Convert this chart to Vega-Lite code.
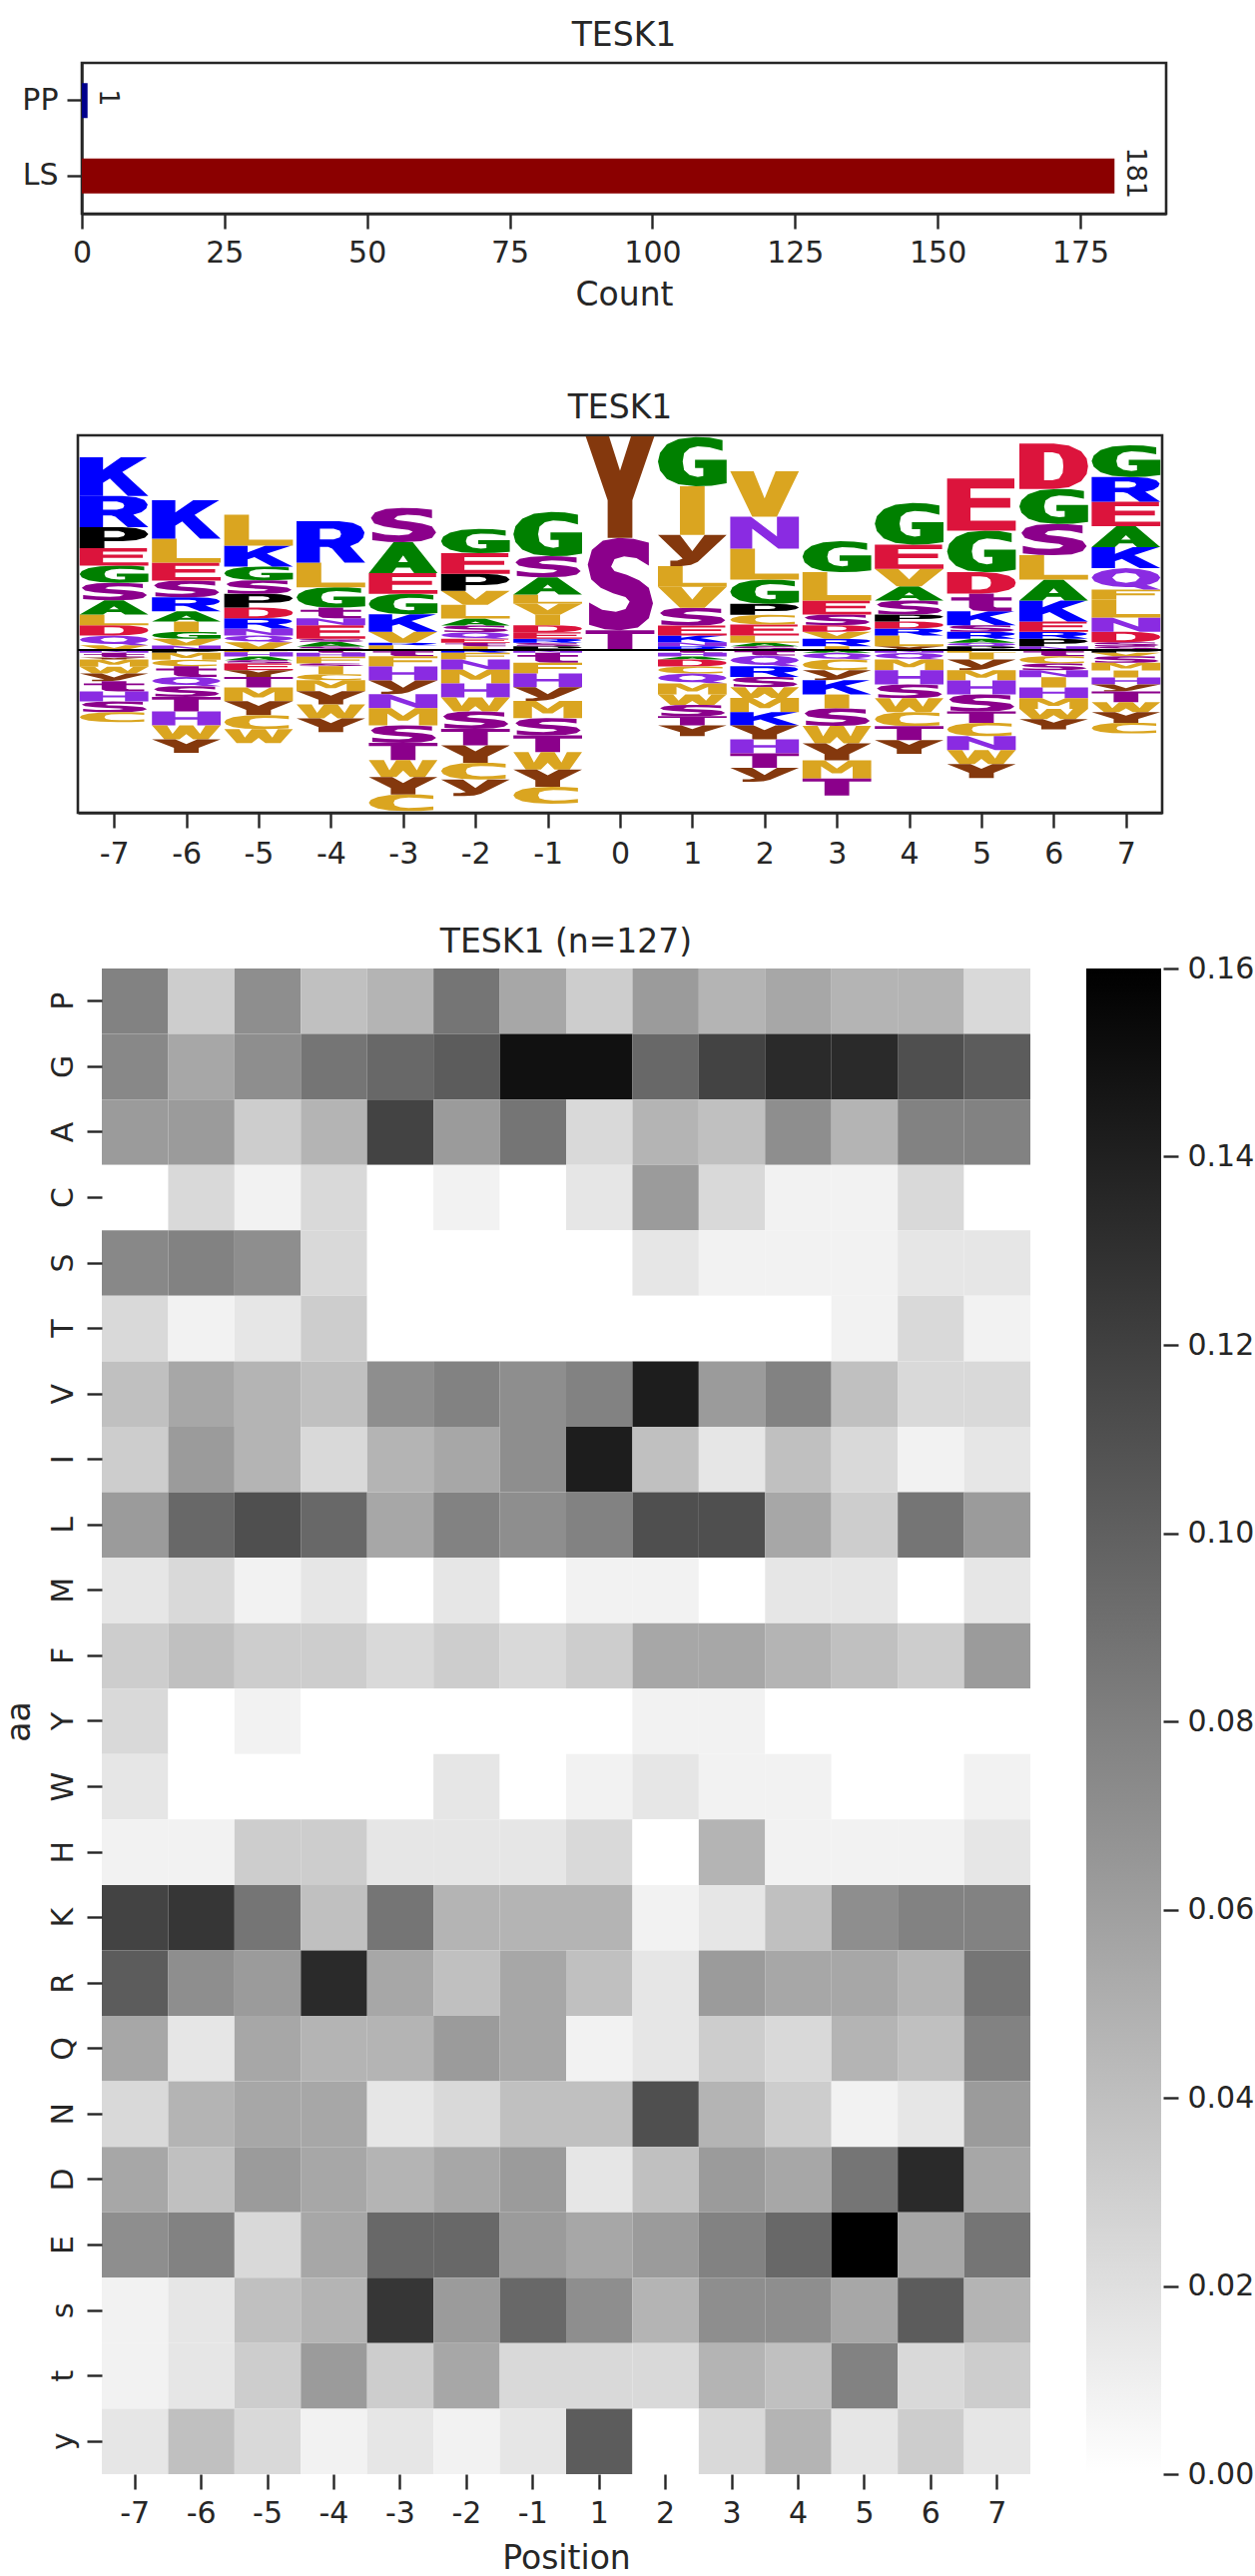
{"$schema":"https://vega.github.io/schema/vega-lite/v6.json","background":"white","padding":{"left":0,"top":18,"right":0,"bottom":0},
"config":{"font":"DejaVu Sans","title":{"fontSize":33,"fontWeight":"normal","color":"#262626","offset":10},"axis":{"labelFontSize":30,"titleFontSize":33,"titleFontWeight":"normal","labelColor":"#262626","titleColor":"#262626","tickColor":"#262626","domainColor":"#262626","tickSize":15,"tickWidth":2.4,"domainWidth":2.4,"grid":false,"labelPadding":9},"view":{"stroke":"#262626","strokeWidth":2.6}},
"datasets":{
"glyphs":[
{"aa":"A","u":[0,34,40,60,66,100,64,36,50,57,43,50,36],"v":[0,0,18,18,0,0,100,100,58,36,36,58,100]},
{"aa":"C","u":[94,75,55,30,13,3,0,3,13,30,55,75,94,94,75,58,46,38,36,38,46,58,75,94],"v":[94,99,100,96,85,68,50,32,15,4,0,1,6,28,21,19,23,33,50,67,77,81,79,72]},
{"aa":"D","u":[0,50,72,90,98,100,98,90,72,50,0,36,48,58,63,64,63,58,48,36,36,0],"v":[0,0,4,17,33,50,67,83,96,100,100,81,81,77,65,50,35,23,19,19,81,100]},
{"aa":"E","u":[0,100,100,34,34,92,92,34,34,98,98,0],"v":[0,0,19,19,44,44,63,63,81,81,100,100]},
{"aa":"F","u":[0,36,36,92,92,36,36,100,100,0],"v":[0,0,42,42,61,61,81,81,100,100]},
{"aa":"G","u":[94,75,55,30,13,3,0,3,13,30,55,78,100,100,54,54,66,66,58,46,38,36,38,46,58,75,94],"v":[94,99,100,96,85,68,50,32,15,4,0,1,6,54,54,37,37,21,19,23,33,50,67,77,81,79,72]},
{"aa":"H","u":[0,34,34,66,66,100,100,66,66,34,34,0],"v":[0,0,41,41,0,0,100,100,60,60,100,100]},
{"aa":"I","u":[32,68,68,32],"v":[0,0,100,100]},
{"aa":"K","u":[0,34,34,44,70,100,62,98,60,34,34,0],"v":[0,0,34,45,0,0,62,100,100,68,100,100]},
{"aa":"L","u":[0,100,100,36,36,0],"v":[0,0,19,19,100,100]},
{"aa":"M","u":[0,27,27,43,57,73,73,100,100,67,50,33,0],"v":[0,0,68,28,28,68,0,0,100,100,55,100,100]},
{"aa":"N","u":[0,32,32,70,100,100,68,68,30,0],"v":[0,0,62,0,0,100,100,38,100,100]},
{"aa":"P","u":[0,36,36,62,82,95,100,95,82,62,0,36,56,64,66,64,56,36,36,0],"v":[0,0,34,34,38,50,67,84,96,100,100,82,82,76,67,58,52,52,82,100]},
{"aa":"Q","u":[0,4,15,31,50,62,76,100,80,85,96,100,96,85,69,50,31,15,4,0,30,36,50,64,70,64,50,36,30,0],"v":[56,39,25,15,12,12,0,0,22,25,39,56,73,87,96,100,96,87,73,56,56,74,80,74,56,38,32,38,56,56]},
{"aa":"R","u":[0,34,34,46,52,70,100,78,90,97,99,94,82,62,0,34,54,63,65,63,54,34,34,0],"v":[0,0,38,38,34,0,0,40,48,60,73,87,96,100,100,82,82,77,69,61,56,56,82,100]},
{"aa":"S","u":[92,70,48,25,9,3,8,22,40,58,64,58,44,24,5,5,28,50,76,92,98,92,78,60,42,37,42,56,74,92],"v":[95,99,100,97,87,71,55,46,40,36,31,23,20,22,30,6,1,0,3,13,29,46,54,60,64,69,77,80,78,70]},
{"aa":"T","u":[32,68,68,100,100,0,0,32],"v":[0,0,81,81,100,100,81,81]},
{"aa":"V","u":[32,68,100,66,50,34,0],"v":[0,0,100,100,40,100,100]},
{"aa":"W","u":[18,40,50,60,82,100,78,70,60,40,30,22,0],"v":[0,0,38,0,0,100,100,40,100,100,40,100,100]},
{"aa":"Y","u":[32,68,68,100,66,50,34,0,32],"v":[0,0,37,100,100,66,100,100,37]},
{"aa":"t","u":[32,68,68,94,94,68,68,72,94,94,56,38,32,32,6,6,32],"v":[100,100,78,78,60,60,26,20,20,0,0,5,20,60,60,78,78]},
{"aa":"y","u":[0,36,28,18,18,34,48,58,100,68,50,32],"v":[100,24,18,18,0,0,4,14,100,100,48,100]}
],
"logo":[
{"pos":-7,"aa":"V","h":14},{"pos":-7,"aa":"Q","h":29},{"pos":-7,"aa":"D","h":31},{"pos":-7,"aa":"L","h":32},{"pos":-7,"aa":"A","h":43},{"pos":-7,"aa":"S","h":52},{"pos":-7,"aa":"G","h":52},{"pos":-7,"aa":"E","h":52},{"pos":-7,"aa":"P","h":63},{"pos":-7,"aa":"R","h":94},{"pos":-7,"aa":"K","h":116},
{"pos":-7,"aa":"N","h":-9},{"pos":-7,"aa":"t","h":-14},{"pos":-7,"aa":"Y","h":-6},{"pos":-7,"aa":"M","h":-22},{"pos":-7,"aa":"W","h":-20},{"pos":-7,"aa":"y","h":-23},{"pos":-7,"aa":"t","h":-31},{"pos":-7,"aa":"H","h":-30},{"pos":-7,"aa":"S","h":-32},{"pos":-7,"aa":"C","h":-30},
{"pos":-6,"aa":"N","h":13},{"pos":-6,"aa":"V","h":20},{"pos":-6,"aa":"G","h":21},{"pos":-6,"aa":"I","h":31},{"pos":-6,"aa":"A","h":31},{"pos":-6,"aa":"R","h":42},{"pos":-6,"aa":"S","h":50},{"pos":-6,"aa":"E","h":54},{"pos":-6,"aa":"L","h":72},{"pos":-6,"aa":"K","h":115},
{"pos":-6,"aa":"P","h":-9},{"pos":-6,"aa":"M","h":-21},{"pos":-6,"aa":"C","h":-19},{"pos":-6,"aa":"t","h":-32},{"pos":-6,"aa":"Q","h":-28},{"pos":-6,"aa":"S","h":-32},{"pos":-6,"aa":"T","h":-44},{"pos":-6,"aa":"H","h":-42},{"pos":-6,"aa":"W","h":-42},{"pos":-6,"aa":"Y","h":-40},
{"pos":-5,"aa":"V","h":23},{"pos":-5,"aa":"Q","h":20},{"pos":-5,"aa":"N","h":21},{"pos":-5,"aa":"R","h":31},{"pos":-5,"aa":"D","h":32},{"pos":-5,"aa":"P","h":41},{"pos":-5,"aa":"S","h":41},{"pos":-5,"aa":"G","h":41},{"pos":-5,"aa":"K","h":63},{"pos":-5,"aa":"L","h":93},
{"pos":-5,"aa":"F","h":-7},{"pos":-5,"aa":"H","h":-13},{"pos":-5,"aa":"A","h":-11},{"pos":-5,"aa":"S","h":-10},{"pos":-5,"aa":"E","h":-20},{"pos":-5,"aa":"Y","h":-20},{"pos":-5,"aa":"T","h":-32},{"pos":-5,"aa":"M","h":-41},{"pos":-5,"aa":"Y","h":-42},{"pos":-5,"aa":"C","h":-42},{"pos":-5,"aa":"W","h":-42},
{"pos":-4,"aa":"S","h":10},{"pos":-4,"aa":"A","h":14},{"pos":-4,"aa":"S","h":9},{"pos":-4,"aa":"E","h":41},{"pos":-4,"aa":"N","h":21},{"pos":-4,"aa":"t","h":32},{"pos":-4,"aa":"G","h":61},{"pos":-4,"aa":"L","h":74},{"pos":-4,"aa":"R","h":124},
{"pos":-4,"aa":"t","h":-9},{"pos":-4,"aa":"H","h":-12},{"pos":-4,"aa":"F","h":-20},{"pos":-4,"aa":"S","h":-8},{"pos":-4,"aa":"I","h":-24},{"pos":-4,"aa":"C","h":-18},{"pos":-4,"aa":"M","h":-33},{"pos":-4,"aa":"Y","h":-40},{"pos":-4,"aa":"W","h":-42},{"pos":-4,"aa":"Y","h":-41},
{"pos":-3,"aa":"L","h":14},{"pos":-3,"aa":"R","h":7},{"pos":-3,"aa":"V","h":33},{"pos":-3,"aa":"K","h":53},{"pos":-3,"aa":"G","h":61},{"pos":-3,"aa":"E","h":62},{"pos":-3,"aa":"A","h":93},{"pos":-3,"aa":"S","h":103},
{"pos":-3,"aa":"t","h":-19},{"pos":-3,"aa":"F","h":-31},{"pos":-3,"aa":"H","h":-42},{"pos":-3,"aa":"y","h":-41},{"pos":-3,"aa":"N","h":-42},{"pos":-3,"aa":"M","h":-52},{"pos":-3,"aa":"S","h":-52},{"pos":-3,"aa":"T","h":-52},{"pos":-3,"aa":"W","h":-51},{"pos":-3,"aa":"Y","h":-52},{"pos":-3,"aa":"C","h":-50},
{"pos":-2,"aa":"I","h":11},{"pos":-2,"aa":"t","h":10},{"pos":-2,"aa":"E","h":12},{"pos":-2,"aa":"Q","h":20},{"pos":-2,"aa":"S","h":20},{"pos":-2,"aa":"A","h":21},{"pos":-2,"aa":"L","h":41},{"pos":-2,"aa":"V","h":42},{"pos":-2,"aa":"P","h":51},{"pos":-2,"aa":"E","h":62},{"pos":-2,"aa":"G","h":73},
{"pos":-2,"aa":"R","h":-9},{"pos":-2,"aa":"F","h":-20},{"pos":-2,"aa":"N","h":-31},{"pos":-2,"aa":"M","h":-41},{"pos":-2,"aa":"H","h":-42},{"pos":-2,"aa":"W","h":-42},{"pos":-2,"aa":"S","h":-52},{"pos":-2,"aa":"T","h":-50},{"pos":-2,"aa":"Y","h":-52},{"pos":-2,"aa":"C","h":-50},{"pos":-2,"aa":"y","h":-50},
{"pos":-1,"aa":"P","h":11},{"pos":-1,"aa":"S","h":10},{"pos":-1,"aa":"R","h":12},{"pos":-1,"aa":"E","h":20},{"pos":-1,"aa":"D","h":21},{"pos":-1,"aa":"I","h":31},{"pos":-1,"aa":"V","h":34},{"pos":-1,"aa":"L","h":27},{"pos":-1,"aa":"A","h":52},{"pos":-1,"aa":"S","h":63},{"pos":-1,"aa":"G","h":133},
{"pos":-1,"aa":"N","h":-9},{"pos":-1,"aa":"t","h":-30},{"pos":-1,"aa":"F","h":-32},{"pos":-1,"aa":"H","h":-41},{"pos":-1,"aa":"y","h":-41},{"pos":-1,"aa":"M","h":-52},{"pos":-1,"aa":"S","h":-52},{"pos":-1,"aa":"T","h":-50},{"pos":-1,"aa":"W","h":-52},{"pos":-1,"aa":"Y","h":-52},{"pos":-1,"aa":"C","h":-51},
{"pos":0,"aa":"T","h":59},{"pos":0,"aa":"S","h":277},{"pos":0,"aa":"Y","h":305},
{"pos":1,"aa":"R","h":11},{"pos":1,"aa":"N","h":12},{"pos":1,"aa":"K","h":20},{"pos":1,"aa":"E","h":30},{"pos":1,"aa":"S","h":53},{"pos":1,"aa":"V","h":63},{"pos":1,"aa":"L","h":62},{"pos":1,"aa":"y","h":94},{"pos":1,"aa":"I","h":146},{"pos":1,"aa":"G","h":148},
{"pos":1,"aa":"t","h":-9},{"pos":1,"aa":"H","h":-11},{"pos":1,"aa":"A","h":-9},{"pos":1,"aa":"D","h":-21},{"pos":1,"aa":"C","h":-21},{"pos":1,"aa":"Q","h":-30},{"pos":1,"aa":"M","h":-33},{"pos":1,"aa":"W","h":-31},{"pos":1,"aa":"S","h":-34},{"pos":1,"aa":"T","h":-28},{"pos":1,"aa":"Y","h":-32},
{"pos":2,"aa":"S","h":11},{"pos":2,"aa":"A","h":10},{"pos":2,"aa":"L","h":22},{"pos":2,"aa":"E","h":33},{"pos":2,"aa":"C","h":29},{"pos":2,"aa":"P","h":33},{"pos":2,"aa":"G","h":73},{"pos":2,"aa":"L","h":93},{"pos":2,"aa":"N","h":96},{"pos":2,"aa":"V","h":136},
{"pos":2,"aa":"t","h":-17},{"pos":2,"aa":"Q","h":-32},{"pos":2,"aa":"R","h":-32},{"pos":2,"aa":"S","h":-31},{"pos":2,"aa":"W","h":-32},{"pos":2,"aa":"M","h":-43},{"pos":2,"aa":"K","h":-40},{"pos":2,"aa":"Y","h":-42},{"pos":2,"aa":"H","h":-42},{"pos":2,"aa":"T","h":-43},{"pos":2,"aa":"y","h":-42},
{"pos":3,"aa":"I","h":11},{"pos":3,"aa":"R","h":22},{"pos":3,"aa":"V","h":21},{"pos":3,"aa":"D","h":20},{"pos":3,"aa":"S","h":32},{"pos":3,"aa":"E","h":42},{"pos":3,"aa":"L","h":85},{"pos":3,"aa":"G","h":93},
{"pos":3,"aa":"A","h":-9},{"pos":3,"aa":"Q","h":-20},{"pos":3,"aa":"C","h":-32},{"pos":3,"aa":"y","h":-30},{"pos":3,"aa":"K","h":-43},{"pos":3,"aa":"I","h":-42},{"pos":3,"aa":"S","h":-52},{"pos":3,"aa":"W","h":-53},{"pos":3,"aa":"Y","h":-51},{"pos":3,"aa":"M","h":-54},{"pos":3,"aa":"T","h":-51},
{"pos":4,"aa":"Y","h":11},{"pos":4,"aa":"L","h":32},{"pos":4,"aa":"R","h":21},{"pos":4,"aa":"D","h":21},{"pos":4,"aa":"P","h":21},{"pos":4,"aa":"S","h":42},{"pos":4,"aa":"A","h":43},{"pos":4,"aa":"V","h":52},{"pos":4,"aa":"E","h":73},{"pos":4,"aa":"G","h":125},
{"pos":4,"aa":"N","h":-9},{"pos":4,"aa":"Q","h":-20},{"pos":4,"aa":"M","h":-32},{"pos":4,"aa":"H","h":-43},{"pos":4,"aa":"S","h":-41},{"pos":4,"aa":"W","h":-42},{"pos":4,"aa":"C","h":-42},{"pos":4,"aa":"T","h":-42},{"pos":4,"aa":"Y","h":-41},
{"pos":5,"aa":"P","h":11},{"pos":5,"aa":"Q","h":10},{"pos":5,"aa":"A","h":12},{"pos":5,"aa":"R","h":21},{"pos":5,"aa":"S","h":20},{"pos":5,"aa":"K","h":42},{"pos":5,"aa":"t","h":53},{"pos":5,"aa":"D","h":64},{"pos":5,"aa":"G","h":125},{"pos":5,"aa":"E","h":156},
{"pos":5,"aa":"L","h":-9},{"pos":5,"aa":"I","h":-20},{"pos":5,"aa":"y","h":-32},{"pos":5,"aa":"M","h":-31},{"pos":5,"aa":"H","h":-42},{"pos":5,"aa":"S","h":-51},{"pos":5,"aa":"T","h":-34},{"pos":5,"aa":"C","h":-40},{"pos":5,"aa":"N","h":-42},{"pos":5,"aa":"W","h":-42},{"pos":5,"aa":"Y","h":-42},
{"pos":6,"aa":"N","h":11},{"pos":6,"aa":"P","h":22},{"pos":6,"aa":"R","h":21},{"pos":6,"aa":"E","h":31},{"pos":6,"aa":"K","h":63},{"pos":6,"aa":"A","h":63},{"pos":6,"aa":"L","h":73},{"pos":6,"aa":"S","h":94},{"pos":6,"aa":"G","h":105},{"pos":6,"aa":"D","h":136},
{"pos":6,"aa":"t","h":-19},{"pos":6,"aa":"C","h":-22},{"pos":6,"aa":"S","h":-20},{"pos":6,"aa":"N","h":-21},{"pos":6,"aa":"I","h":-31},{"pos":6,"aa":"H","h":-32},{"pos":6,"aa":"M","h":-32},{"pos":6,"aa":"W","h":-31},{"pos":6,"aa":"Y","h":-31},
{"pos":7,"aa":"S","h":11},{"pos":7,"aa":"S","h":12},{"pos":7,"aa":"D","h":31},{"pos":7,"aa":"N","h":43},{"pos":7,"aa":"L","h":54},{"pos":7,"aa":"F","h":30},{"pos":7,"aa":"Q","h":64},{"pos":7,"aa":"K","h":63},{"pos":7,"aa":"A","h":63},{"pos":7,"aa":"E","h":74},{"pos":7,"aa":"R","h":74},{"pos":7,"aa":"G","h":95},
{"pos":7,"aa":"P","h":-9},{"pos":7,"aa":"V","h":-10},{"pos":7,"aa":"S","h":-20},{"pos":7,"aa":"M","h":-23},{"pos":7,"aa":"I","h":-21},{"pos":7,"aa":"H","h":-21},{"pos":7,"aa":"y","h":-21},{"pos":7,"aa":"T","h":-32},{"pos":7,"aa":"W","h":-30},{"pos":7,"aa":"Y","h":-32},{"pos":7,"aa":"C","h":-32}
],
"heat":[
{"a":"P","p":-7,"v":0.0787},{"a":"P","p":-6,"v":0.0315},{"a":"P","p":-5,"v":0.0709},{"a":"P","p":-4,"v":0.0394},{"a":"P","p":-3,"v":0.0472},{"a":"P","p":-2,"v":0.0866},{"a":"P","p":-1,"v":0.0551},{"a":"P","p":1,"v":0.0315},{"a":"P","p":2,"v":0.063},{"a":"P","p":3,"v":0.0472},{"a":"P","p":4,"v":0.0551},{"a":"P","p":5,"v":0.0472},{"a":"P","p":6,"v":0.0472},{"a":"P","p":7,"v":0.0236},
{"a":"G","p":-7,"v":0.0748},{"a":"G","p":-6,"v":0.0551},{"a":"G","p":-5,"v":0.0709},{"a":"G","p":-4,"v":0.0866},{"a":"G","p":-3,"v":0.0945},{"a":"G","p":-2,"v":0.1024},{"a":"G","p":-1,"v":0.1496},{"a":"G","p":1,"v":0.1496},{"a":"G","p":2,"v":0.0945},{"a":"G","p":3,"v":0.1181},{"a":"G","p":4,"v":0.1339},{"a":"G","p":5,"v":0.1339},{"a":"G","p":6,"v":0.1102},{"a":"G","p":7,"v":0.1024},
{"a":"A","p":-7,"v":0.063},{"a":"A","p":-6,"v":0.063},{"a":"A","p":-5,"v":0.0315},{"a":"A","p":-4,"v":0.0472},{"a":"A","p":-3,"v":0.1181},{"a":"A","p":-2,"v":0.063},{"a":"A","p":-1,"v":0.0866},{"a":"A","p":1,"v":0.0236},{"a":"A","p":2,"v":0.0472},{"a":"A","p":3,"v":0.0394},{"a":"A","p":4,"v":0.0709},{"a":"A","p":5,"v":0.0472},{"a":"A","p":6,"v":0.0787},{"a":"A","p":7,"v":0.0787},
{"a":"C","p":-7,"v":0},{"a":"C","p":-6,"v":0.0236},{"a":"C","p":-5,"v":0.0079},{"a":"C","p":-4,"v":0.0236},{"a":"C","p":-3,"v":0},{"a":"C","p":-2,"v":0.0079},{"a":"C","p":-1,"v":0},{"a":"C","p":1,"v":0.0157},{"a":"C","p":2,"v":0.063},{"a":"C","p":3,"v":0.0236},{"a":"C","p":4,"v":0.0079},{"a":"C","p":5,"v":0.0079},{"a":"C","p":6,"v":0.0236},{"a":"C","p":7,"v":0},
{"a":"S","p":-7,"v":0.0748},{"a":"S","p":-6,"v":0.0787},{"a":"S","p":-5,"v":0.0709},{"a":"S","p":-4,"v":0.0236},{"a":"S","p":-3,"v":0},{"a":"S","p":-2,"v":0},{"a":"S","p":-1,"v":0},{"a":"S","p":1,"v":0},{"a":"S","p":2,"v":0.0157},{"a":"S","p":3,"v":0.0079},{"a":"S","p":4,"v":0.0079},{"a":"S","p":5,"v":0.0079},{"a":"S","p":6,"v":0.0157},{"a":"S","p":7,"v":0.0157},
{"a":"T","p":-7,"v":0.0236},{"a":"T","p":-6,"v":0.0079},{"a":"T","p":-5,"v":0.0157},{"a":"T","p":-4,"v":0.0315},{"a":"T","p":-3,"v":0},{"a":"T","p":-2,"v":0},{"a":"T","p":-1,"v":0},{"a":"T","p":1,"v":0},{"a":"T","p":2,"v":0},{"a":"T","p":3,"v":0},{"a":"T","p":4,"v":0},{"a":"T","p":5,"v":0.0079},{"a":"T","p":6,"v":0.0236},{"a":"T","p":7,"v":0.0079},
{"a":"V","p":-7,"v":0.0394},{"a":"V","p":-6,"v":0.0551},{"a":"V","p":-5,"v":0.0472},{"a":"V","p":-4,"v":0.0394},{"a":"V","p":-3,"v":0.0709},{"a":"V","p":-2,"v":0.0787},{"a":"V","p":-1,"v":0.0709},{"a":"V","p":1,"v":0.0787},{"a":"V","p":2,"v":0.1417},{"a":"V","p":3,"v":0.063},{"a":"V","p":4,"v":0.0787},{"a":"V","p":5,"v":0.0394},{"a":"V","p":6,"v":0.0236},{"a":"V","p":7,"v":0.0236},
{"a":"I","p":-7,"v":0.0315},{"a":"I","p":-6,"v":0.063},{"a":"I","p":-5,"v":0.0472},{"a":"I","p":-4,"v":0.0236},{"a":"I","p":-3,"v":0.0472},{"a":"I","p":-2,"v":0.0551},{"a":"I","p":-1,"v":0.0709},{"a":"I","p":1,"v":0.1417},{"a":"I","p":2,"v":0.0394},{"a":"I","p":3,"v":0.0157},{"a":"I","p":4,"v":0.0394},{"a":"I","p":5,"v":0.0236},{"a":"I","p":6,"v":0.0079},{"a":"I","p":7,"v":0.0157},
{"a":"L","p":-7,"v":0.063},{"a":"L","p":-6,"v":0.0945},{"a":"L","p":-5,"v":0.1102},{"a":"L","p":-4,"v":0.0945},{"a":"L","p":-3,"v":0.0551},{"a":"L","p":-2,"v":0.0787},{"a":"L","p":-1,"v":0.0709},{"a":"L","p":1,"v":0.0787},{"a":"L","p":2,"v":0.1102},{"a":"L","p":3,"v":0.1102},{"a":"L","p":4,"v":0.0551},{"a":"L","p":5,"v":0.0315},{"a":"L","p":6,"v":0.0866},{"a":"L","p":7,"v":0.063},
{"a":"M","p":-7,"v":0.0157},{"a":"M","p":-6,"v":0.0236},{"a":"M","p":-5,"v":0.0079},{"a":"M","p":-4,"v":0.0157},{"a":"M","p":-3,"v":0},{"a":"M","p":-2,"v":0.0157},{"a":"M","p":-1,"v":0},{"a":"M","p":1,"v":0.0079},{"a":"M","p":2,"v":0.0079},{"a":"M","p":3,"v":0},{"a":"M","p":4,"v":0.0157},{"a":"M","p":5,"v":0.0157},{"a":"M","p":6,"v":0},{"a":"M","p":7,"v":0.0157},
{"a":"F","p":-7,"v":0.0315},{"a":"F","p":-6,"v":0.0394},{"a":"F","p":-5,"v":0.0315},{"a":"F","p":-4,"v":0.0315},{"a":"F","p":-3,"v":0.0236},{"a":"F","p":-2,"v":0.0315},{"a":"F","p":-1,"v":0.0236},{"a":"F","p":1,"v":0.0315},{"a":"F","p":2,"v":0.0551},{"a":"F","p":3,"v":0.0551},{"a":"F","p":4,"v":0.0472},{"a":"F","p":5,"v":0.0394},{"a":"F","p":6,"v":0.0315},{"a":"F","p":7,"v":0.063},
{"a":"Y","p":-7,"v":0.0236},{"a":"Y","p":-6,"v":0},{"a":"Y","p":-5,"v":0.0079},{"a":"Y","p":-4,"v":0},{"a":"Y","p":-3,"v":0},{"a":"Y","p":-2,"v":0},{"a":"Y","p":-1,"v":0},{"a":"Y","p":1,"v":0},{"a":"Y","p":2,"v":0.0079},{"a":"Y","p":3,"v":0.0079},{"a":"Y","p":4,"v":0},{"a":"Y","p":5,"v":0},{"a":"Y","p":6,"v":0},{"a":"Y","p":7,"v":0},
{"a":"W","p":-7,"v":0.0157},{"a":"W","p":-6,"v":0},{"a":"W","p":-5,"v":0},{"a":"W","p":-4,"v":0},{"a":"W","p":-3,"v":0},{"a":"W","p":-2,"v":0.0157},{"a":"W","p":-1,"v":0},{"a":"W","p":1,"v":0.0079},{"a":"W","p":2,"v":0.0157},{"a":"W","p":3,"v":0.0079},{"a":"W","p":4,"v":0.0079},{"a":"W","p":5,"v":0},{"a":"W","p":6,"v":0},{"a":"W","p":7,"v":0.0079},
{"a":"H","p":-7,"v":0.0079},{"a":"H","p":-6,"v":0.0079},{"a":"H","p":-5,"v":0.0315},{"a":"H","p":-4,"v":0.0315},{"a":"H","p":-3,"v":0.0157},{"a":"H","p":-2,"v":0.0157},{"a":"H","p":-1,"v":0.0157},{"a":"H","p":1,"v":0.0236},{"a":"H","p":2,"v":0},{"a":"H","p":3,"v":0.0472},{"a":"H","p":4,"v":0.0079},{"a":"H","p":5,"v":0.0079},{"a":"H","p":6,"v":0.0079},{"a":"H","p":7,"v":0.0157},
{"a":"K","p":-7,"v":0.1181},{"a":"K","p":-6,"v":0.126},{"a":"K","p":-5,"v":0.0866},{"a":"K","p":-4,"v":0.0394},{"a":"K","p":-3,"v":0.0866},{"a":"K","p":-2,"v":0.0472},{"a":"K","p":-1,"v":0.0472},{"a":"K","p":1,"v":0.0472},{"a":"K","p":2,"v":0.0079},{"a":"K","p":3,"v":0.0157},{"a":"K","p":4,"v":0.0394},{"a":"K","p":5,"v":0.0709},{"a":"K","p":6,"v":0.0787},{"a":"K","p":7,"v":0.0787},
{"a":"R","p":-7,"v":0.1024},{"a":"R","p":-6,"v":0.0709},{"a":"R","p":-5,"v":0.063},{"a":"R","p":-4,"v":0.1339},{"a":"R","p":-3,"v":0.0551},{"a":"R","p":-2,"v":0.0394},{"a":"R","p":-1,"v":0.0551},{"a":"R","p":1,"v":0.0394},{"a":"R","p":2,"v":0.0157},{"a":"R","p":3,"v":0.063},{"a":"R","p":4,"v":0.0551},{"a":"R","p":5,"v":0.0551},{"a":"R","p":6,"v":0.0472},{"a":"R","p":7,"v":0.0866},
{"a":"Q","p":-7,"v":0.0551},{"a":"Q","p":-6,"v":0.0157},{"a":"Q","p":-5,"v":0.0551},{"a":"Q","p":-4,"v":0.0472},{"a":"Q","p":-3,"v":0.0472},{"a":"Q","p":-2,"v":0.063},{"a":"Q","p":-1,"v":0.0551},{"a":"Q","p":1,"v":0.0079},{"a":"Q","p":2,"v":0.0157},{"a":"Q","p":3,"v":0.0315},{"a":"Q","p":4,"v":0.0236},{"a":"Q","p":5,"v":0.0472},{"a":"Q","p":6,"v":0.0394},{"a":"Q","p":7,"v":0.0787},
{"a":"N","p":-7,"v":0.0236},{"a":"N","p":-6,"v":0.0472},{"a":"N","p":-5,"v":0.0551},{"a":"N","p":-4,"v":0.0551},{"a":"N","p":-3,"v":0.0157},{"a":"N","p":-2,"v":0.0236},{"a":"N","p":-1,"v":0.0394},{"a":"N","p":1,"v":0.0394},{"a":"N","p":2,"v":0.1102},{"a":"N","p":3,"v":0.0472},{"a":"N","p":4,"v":0.0315},{"a":"N","p":5,"v":0.0079},{"a":"N","p":6,"v":0.0157},{"a":"N","p":7,"v":0.063},
{"a":"D","p":-7,"v":0.0551},{"a":"D","p":-6,"v":0.0394},{"a":"D","p":-5,"v":0.063},{"a":"D","p":-4,"v":0.0551},{"a":"D","p":-3,"v":0.0472},{"a":"D","p":-2,"v":0.0551},{"a":"D","p":-1,"v":0.063},{"a":"D","p":1,"v":0.0157},{"a":"D","p":2,"v":0.0394},{"a":"D","p":3,"v":0.063},{"a":"D","p":4,"v":0.0551},{"a":"D","p":5,"v":0.0866},{"a":"D","p":6,"v":0.1339},{"a":"D","p":7,"v":0.0551},
{"a":"E","p":-7,"v":0.0709},{"a":"E","p":-6,"v":0.0787},{"a":"E","p":-5,"v":0.0236},{"a":"E","p":-4,"v":0.0551},{"a":"E","p":-3,"v":0.0945},{"a":"E","p":-2,"v":0.0945},{"a":"E","p":-1,"v":0.063},{"a":"E","p":1,"v":0.0551},{"a":"E","p":2,"v":0.063},{"a":"E","p":3,"v":0.0787},{"a":"E","p":4,"v":0.0945},{"a":"E","p":5,"v":0.16},{"a":"E","p":6,"v":0.0551},{"a":"E","p":7,"v":0.0866},
{"a":"s","p":-7,"v":0.0079},{"a":"s","p":-6,"v":0.0157},{"a":"s","p":-5,"v":0.0394},{"a":"s","p":-4,"v":0.0472},{"a":"s","p":-3,"v":0.126},{"a":"s","p":-2,"v":0.063},{"a":"s","p":-1,"v":0.0945},{"a":"s","p":1,"v":0.0709},{"a":"s","p":2,"v":0.0472},{"a":"s","p":3,"v":0.0709},{"a":"s","p":4,"v":0.0709},{"a":"s","p":5,"v":0.0551},{"a":"s","p":6,"v":0.1024},{"a":"s","p":7,"v":0.0472},
{"a":"t","p":-7,"v":0.0079},{"a":"t","p":-6,"v":0.0157},{"a":"t","p":-5,"v":0.0315},{"a":"t","p":-4,"v":0.063},{"a":"t","p":-3,"v":0.0315},{"a":"t","p":-2,"v":0.0551},{"a":"t","p":-1,"v":0.0236},{"a":"t","p":1,"v":0.0236},{"a":"t","p":2,"v":0.0236},{"a":"t","p":3,"v":0.0472},{"a":"t","p":4,"v":0.0394},{"a":"t","p":5,"v":0.0787},{"a":"t","p":6,"v":0.0236},{"a":"t","p":7,"v":0.0315},
{"a":"y","p":-7,"v":0.0157},{"a":"y","p":-6,"v":0.0394},{"a":"y","p":-5,"v":0.0236},{"a":"y","p":-4,"v":0.0079},{"a":"y","p":-3,"v":0.0157},{"a":"y","p":-2,"v":0.0079},{"a":"y","p":-1,"v":0.0157},{"a":"y","p":1,"v":0.1024},{"a":"y","p":2,"v":0},{"a":"y","p":3,"v":0.0236},{"a":"y","p":4,"v":0.0472},{"a":"y","p":5,"v":0.0157},{"a":"y","p":6,"v":0.0315},{"a":"y","p":7,"v":0.0157}
],
"spacer":[{"s":0}]},
"spacing":56,"align":"none",
"vconcat":[
{"spacing":0,"hconcat":[
{"width":20,"height":1,"view":{"stroke":null},"data":{"name":"spacer"},"mark":{"type":"rect","opacity":0},"encoding":{}},
{"title":"TESK1","width":1086,"height":151,"data":{"values":[{"k":"PP","n":1},{"k":"LS","n":181}]},
"encoding":{"y":{"field":"k","type":"nominal","sort":["PP","LS"],"title":null,"scale":{"paddingInner":0.54,"paddingOuter":0.27},"axis":{"labelAngle":0}}},
"layer":[
{"mark":{"type":"bar","size":35},"encoding":{"x":{"field":"n","type":"quantitative","title":"Count","scale":{"domain":[0,190.05],"nice":false},"axis":{"values":[0,25,50,75,100,125,150,175],"titlePadding":11,"labelFlush":false}},"color":{"field":"k","type":"nominal","legend":null,"scale":{"domain":["PP","LS"],"range":["#00008b","#8b0000"]}}}},
{"mark":{"type":"text","angle":90,"fontSize":27,"dy":-20.5,"dx":-3,"color":"#262626","align":"center","baseline":"middle"},"encoding":{"x":{"field":"n","type":"quantitative"},"text":{"field":"n","type":"quantitative"}}}
]}]},
{"spacing":0,"hconcat":[
{"width":76,"height":1,"view":{"stroke":null},"data":{"name":"spacer"},"mark":{"type":"rect","opacity":0},"encoding":{}},
{"title":{"text":[" ","TESK1"],"lineHeight":21},"width":1086,"height":378,"data":{"name":"logo"},
"layer":[
{"transform":[
{"stack":"h","groupby":["pos"],"as":["s0","s1"]},
{"lookup":"aa","from":{"data":{"name":"glyphs"},"key":"aa","fields":["u","v"]}},
{"calculate":"datum.pos+'_'+datum.s1","as":"id"},
{"flatten":["u","v"]},
{"window":[{"op":"row_number","as":"k"}]},
{"calculate":"datum.pos-0.475+0.95*datum.u/100","as":"gx"},
{"calculate":"min(datum.s0,datum.s1)+abs(datum.h)*datum.v/100","as":"gy"}],
"mark":{"type":"line","strokeWidth":0,"stroke":null,"clip":true,"interpolate":"linear"},
"encoding":{
"x":{"field":"gx","type":"quantitative","title":null,"scale":{"domain":[-7.5,7.5],"nice":false,"zero":false},"axis":{"values":[-7,-6,-5,-4,-3,-2,-1,0,1,2,3,4,5,6,7],"labelExpr":"datum.value+''","labelPadding":11,"labelFlush":false}},
"y":{"field":"gy","type":"quantitative","title":null,"scale":{"domain":[-489,644],"nice":false,"zero":false},"axis":null},
"detail":{"field":"id"},
"order":{"field":"k","type":"quantitative"},
"fill":{"field":"aa","type":"nominal","legend":null,"scale":{"domain":["A","G","K","R","D","E","S","T","t","P","N","Q","H","Y","y","L","V","I","M","W","F","C"],"range":["#008000","#008000","#0000ff","#0000ff","#dc143c","#dc143c","#8b008b","#8b008b","#8b008b","#000000","#8a2be2","#8a2be2","#8a2be2","#84380d","#84380d","#daa520","#daa520","#daa520","#daa520","#daa520","#daa520","#daa520"]}}}},
{"mark":{"type":"rule","color":"#000000","strokeWidth":1.3},"encoding":{"y":{"datum":0}}}
]}]},
{"spacing":0,"hconcat":[
{"width":3,"height":1,"view":{"stroke":null},"data":{"name":"spacer"},"mark":{"type":"rect","opacity":0},"encoding":{}},
{"title":{"text":"TESK1 (n=127)","offset":-6},"width":930,"height":1508,"view":{"stroke":null},"data":{"name":"heat"},
"layer":[
{"mark":{"type":"rect"},"encoding":{
"x":{"field":"p","type":"ordinal","title":"Position","scale":{"paddingInner":0,"paddingOuter":0},"axis":{"labelAngle":0,"domain":false,"titlePadding":14}},
"y":{"field":"a","type":"nominal","title":"aa","sort":["P","G","A","C","S","T","V","I","L","M","F","Y","W","H","K","R","Q","N","D","E","s","t","y"],"scale":{"paddingInner":0,"paddingOuter":0},"axis":{"labelAngle":-90,"domain":false,"minExtent":60,"maxExtent":60,"titlePadding":6}},
"color":{"field":"v","type":"quantitative","scale":{"domain":[0,0.16],"range":["#ffffff","#000000"],"interpolate":"rgb"},"legend":{"orient":"none","legendX":1088,"legendY":0,"gradientLength":1508,"gradientThickness":75,"title":null,"labelExpr":"''","gradientStrokeWidth":0,"values":[0,0.16]}}}},
{"mark":{"type":"rule","opacity":0},"encoding":{"y":{"field":"v","type":"quantitative","title":null,"scale":{"domain":[0,0.16],"nice":false,"zero":false},"axis":{"orient":"right","offset":133,"domain":false,"values":[0,0.02,0.04,0.06,0.08,0.1,0.12,0.14,0.16],"format":".2f"}}}}
],
"resolve":{"scale":{"y":"independent"}}}]}
]}
